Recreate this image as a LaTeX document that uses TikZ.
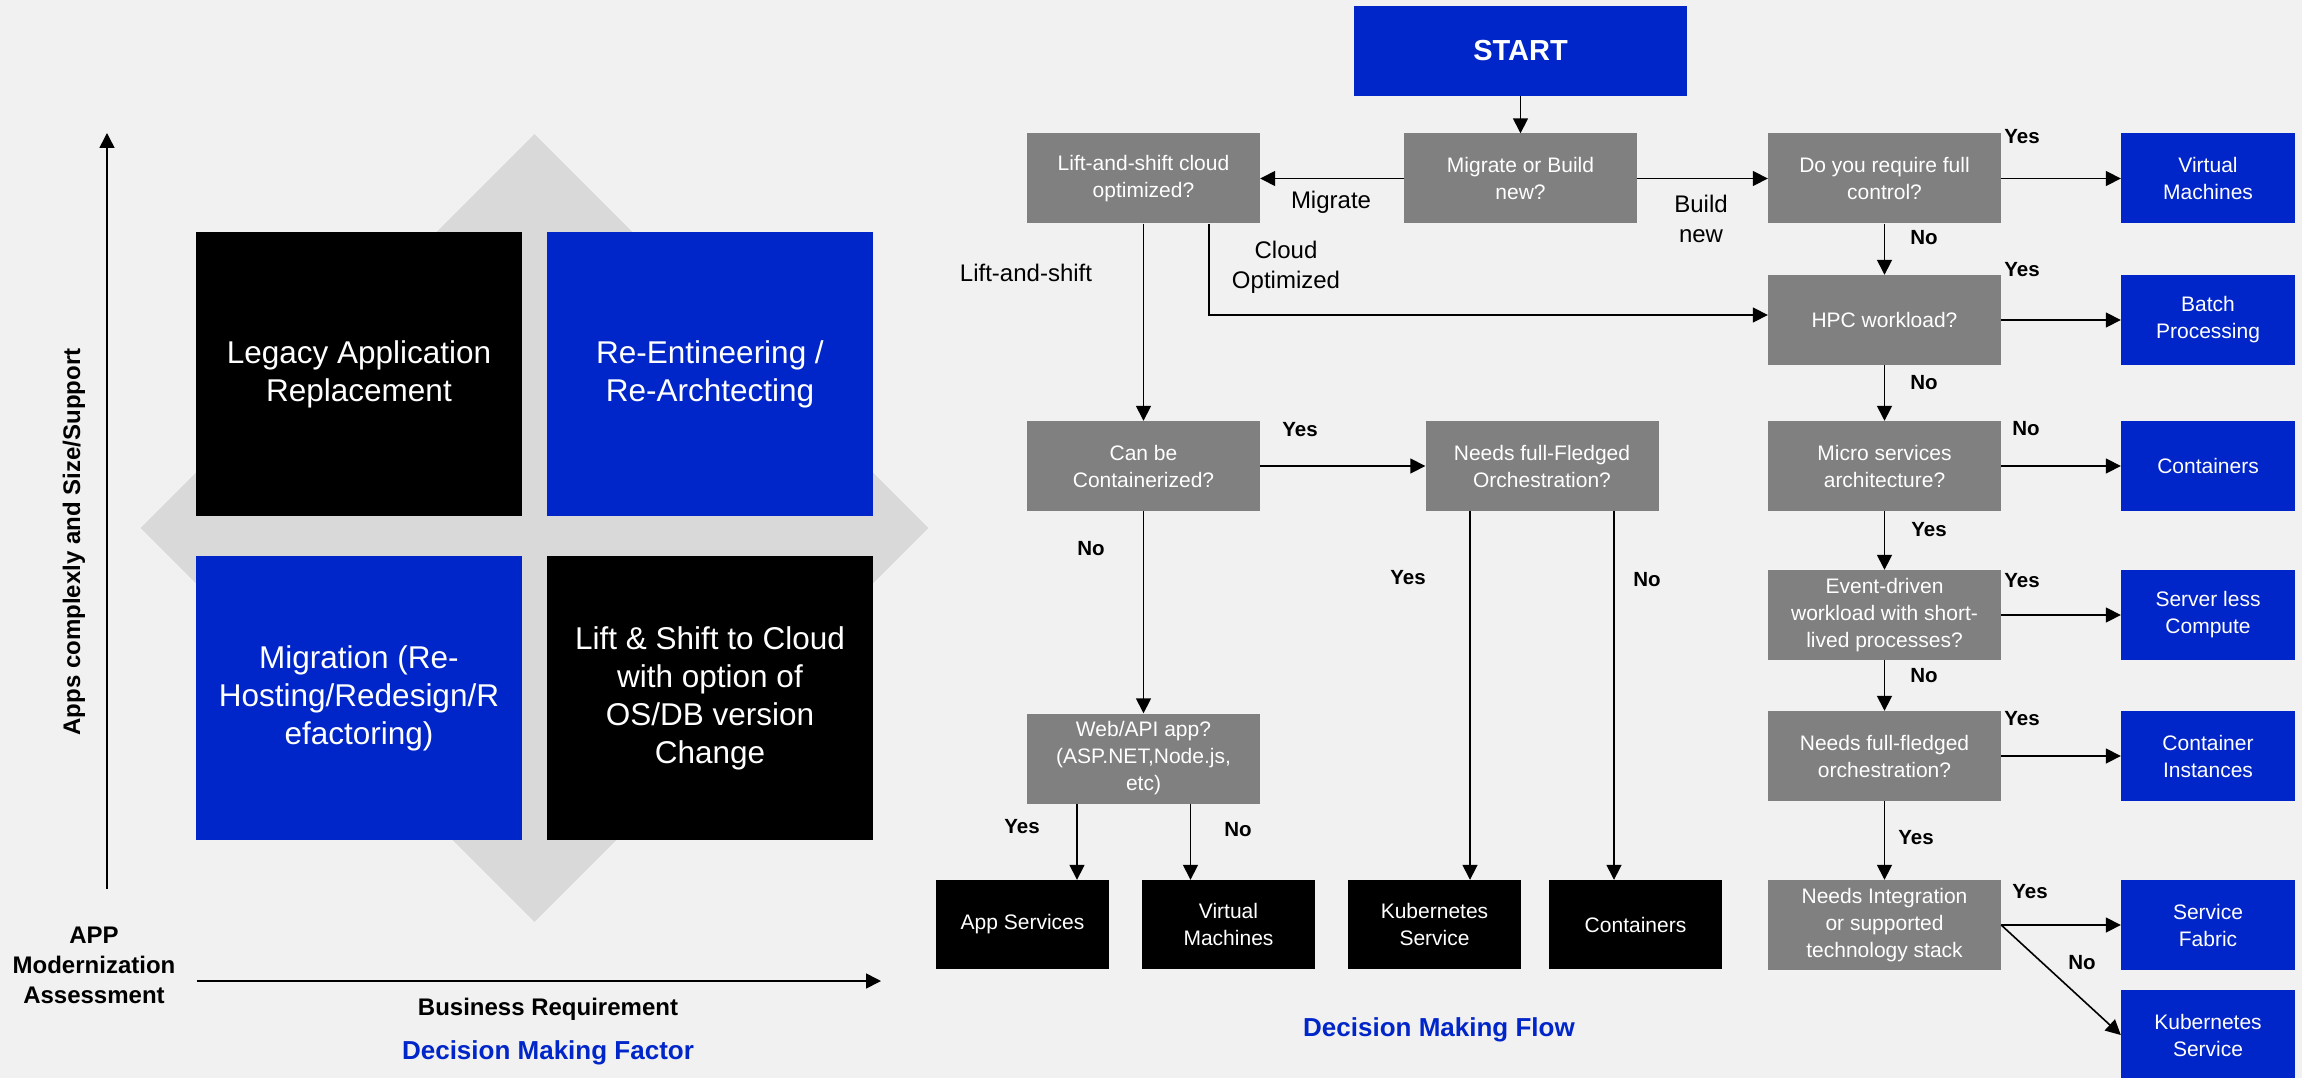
\documentclass[tikz,border=0pt]{standalone}
\usepackage{fontspec}
\setmainfont{Liberation Sans}
\usepackage{xcolor}
\usetikzlibrary{shapes.geometric, arrows.meta, positioning}
\definecolor{flowblue}{RGB}{0, 37, 200}
\definecolor{boxgray}{RGB}{128, 128, 128}
\definecolor{diamondgray}{RGB}{217, 217, 217}
\definecolor{pagegray}{RGB}{241, 241, 241}
\tikzstyle{quadrant} = [rectangle, minimum width=326pt, minimum height=284pt, inner sep=0pt, align=center, text=white, font=\fontsize{31.5}{38}\selectfont]
\tikzstyle{startbox} = [rectangle, minimum width=333pt, minimum height=90pt, inner sep=0pt, fill=flowblue, text=white, font=\bfseries\fontsize{29}{34}\selectfont]
\tikzstyle{question} = [rectangle, minimum width=233pt, minimum height=90pt, inner sep=0pt, align=center, fill=boxgray, text=white, font=\fontsize{21}{27}\selectfont]
\tikzstyle{answer} = [rectangle, minimum width=174pt, minimum height=90pt, inner sep=0pt, align=center, fill=flowblue, text=white, font=\fontsize{21}{27}\selectfont]
\tikzstyle{result} = [rectangle, minimum width=173pt, minimum height=89pt, inner sep=0pt, align=center, fill=black, text=white, font=\fontsize{21}{27}\selectfont]
\tikzstyle{edgetext} = [inner sep=0pt, align=center, font=\fontsize{24}{30}\selectfont]
\tikzstyle{yesno} = [inner sep=0pt, font=\bfseries\fontsize{20.5}{24}\selectfont]
\tikzstyle{axistext} = [inner sep=0pt, align=center, font=\bfseries\fontsize{24}{30}\selectfont]
\tikzstyle{caption} = [inner sep=0pt, text=flowblue, font=\bfseries\fontsize{26}{30}\selectfont]
\tikzstyle{arrow} = [line width=1.6pt, ->, >={Triangle[width=15pt,length=15pt]}]

\begin{document}
\begin{tikzpicture}[x=1pt, y=-1pt, node distance=146pt]

\useasboundingbox (0,0) rectangle (2302,1078);
\fill [pagegray] (0,0) rectangle (2302,1078);

% Decision making factor
\node (bgdiamond) [diamond, fill=diamondgray, minimum width=788pt, minimum height=788pt, inner sep=0pt] at (534.5,528) {};
\node (legacy) [quadrant, fill=black] at (359,374) {Legacy Application\\Replacement};
\node (reeng) [quadrant, fill=flowblue, node distance=351pt, right of=legacy] {Re-Entineering /\\Re-Archtecting};
\node (migration) [quadrant, fill=flowblue, node distance=324pt, below of=legacy] {Migration (Re-\\Hosting/Redesign/R\\efactoring)};
\node (liftshift) [quadrant, fill=black, node distance=351pt, right of=migration] {Lift \& Shift to Cloud\\with option of\\OS/DB version\\Change};

\coordinate (yorigin) at (107,889);
\coordinate (ytop) at (107,133);
\coordinate (xorigin) at (197,981);
\coordinate (xend) at (881,981);
\draw [arrow] (yorigin) -- (ytop);
\draw [arrow] (xorigin) -- (xend);

\node (yaxislabel) [axistext, rotate=90] at (74,542) {Apps complexly and Size/Support};
\node (xaxislabel) [axistext] at (548,1009) {Business Requirement};
\node (assessment) [axistext] at (94,965) {APP\\Modernization\\Assessment};
\node (factorcaption) [caption] at (548,1053) {Decision Making Factor};

% Decision making flow
\node (start) [startbox] at (1520.5,51) {START};
\node (migrate) [question, node distance=127.5pt, below of=start] {Migrate or Build\\new?};
\node (lift) [question, node distance=377pt, left of=migrate] {Lift-and-shift cloud\\optimized?};
\node (canbe) [question, node distance=287.5pt, below of=lift] {Can be\\Containerized?};
\node (needsorch) [question, node distance=398.5pt, right of=canbe] {Needs full-Fledged\\Orchestration?};
\node (webapi) [question, node distance=292.5pt, below of=canbe] {Web/API app?\\(ASP.NET,Node.js,\\etc)};

\node (appsvc) [result, node distance=166pt, below of=webapi, xshift=-121pt] {App Services};
\node (vm1) [result, node distance=206pt, right of=appsvc] {Virtual\\Machines};
\node (aks1) [result, node distance=206pt, right of=vm1] {Kubernetes\\Service};
\node (cont1) [result, node distance=201pt, right of=aks1] {Containers};

\node (fullctrl) [question, node distance=364pt, right of=migrate] {Do you require full\\control?};
\node (hpc) [question, node distance=141.5pt, below of=fullctrl] {HPC workload?};
\node (micro) [question, below of=hpc] {Micro services\\architecture?};
\node (event) [question, node distance=149pt, below of=micro] {Event-driven\\workload with short-\\lived processes?};
\node (needsfull) [question, node distance=141pt, below of=event] {Needs full-fledged\\orchestration?};
\node (integ) [question, node distance=169pt, below of=needsfull] {Needs Integration\\or supported\\technology stack};

\node (vm2) [answer, node distance=323.5pt, right of=fullctrl] {Virtual\\Machines};
\node (batch) [answer, node distance=323.5pt, right of=hpc] {Batch\\Processing};
\node (cont2) [answer, node distance=323.5pt, right of=micro] {Containers};
\node (serverless) [answer, node distance=323.5pt, right of=event] {Server less\\Compute};
\node (aci) [answer, node distance=323.5pt, right of=needsfull] {Container\\Instances};
\node (fabric) [answer, node distance=323.5pt, right of=integ] {Service\\Fabric};
\node (aks2) [answer, node distance=110pt, below of=fabric] {Kubernetes\\Service};

\node (flowcaption) [caption] at (1439,1030) {Decision Making Flow};

% Arrows
\draw [arrow] (start) -- (migrate);
\draw [arrow] (migrate) -- (lift);
\draw [arrow] (migrate) -- (fullctrl);
\draw [arrow] (lift) -- (canbe);
\draw [arrow] ([xshift=65.5pt]lift.south) |- ([yshift=5pt]hpc.west);
\draw [arrow] (canbe) -- (needsorch);
\draw [arrow] (canbe) -- (webapi);
\draw [arrow] ([xshift=-66.5pt]webapi.south) -- ([xshift=-66.5pt]webapi.south |- appsvc.north);
\draw [arrow] ([xshift=47pt]webapi.south) -- ([xshift=47pt]webapi.south |- vm1.north);
\draw [arrow] ([xshift=-72pt]needsorch.south) -- ([xshift=-72pt]needsorch.south |- aks1.north);
\draw [arrow] ([xshift=72pt]needsorch.south) -- ([xshift=72pt]needsorch.south |- cont1.north);

\draw [arrow] (fullctrl) -- (vm2);
\draw [arrow] (fullctrl) -- (hpc);
\draw [arrow] (hpc) -- (batch);
\draw [arrow] (hpc) -- (micro);
\draw [arrow] (micro) -- (cont2);
\draw [arrow] (micro) -- (event);
\draw [arrow] (event) -- (serverless);
\draw [arrow] (event) -- (needsfull);
\draw [arrow] (needsfull) -- (aci);
\draw [arrow] (needsfull) -- (integ);
\draw [arrow] (integ) -- (fabric);
\draw [arrow] (integ.east) -- (aks2.west);

% Labels
\node (lblmigrate) [edgetext] at (1331,202) {Migrate};
\node (lblbuild) [edgetext] at (1701,219) {Build\\new};
\node (lblliftshift) [edgetext] at (1026,273) {Lift-and-shift};
\node (lblcloud) [edgetext] at (1286,267) {Cloud\\Optimized};

\node (yescont) [yesno] at (1300,430) {Yes};
\node (nocont) [yesno] at (1091,549) {No};
\node (yesaks) [yesno] at (1408,578) {Yes};
\node (noorch) [yesno] at (1647,580) {No};
\node (yesweb) [yesno] at (1022,827) {Yes};
\node (noweb) [yesno] at (1238,830) {No};

\node (yesvm) [yesno] at (2022,137) {Yes};
\node (noctrl) [yesno] at (1924,237.5) {No};
\node (yeshpc) [yesno] at (2022,270) {Yes};
\node (nohpc) [yesno] at (1924,383) {No};
\node (nomicro) [yesno] at (2026,429) {No};
\node (yesmicro) [yesno] at (1929,530) {Yes};
\node (yesevent) [yesno] at (2022,581) {Yes};
\node (noevent) [yesno] at (1924,675.5) {No};
\node (yesorch) [yesno] at (2022,718.5) {Yes};
\node (yesfull) [yesno] at (1916,838) {Yes};
\node (yesfabric) [yesno] at (2030,891.5) {Yes};
\node (noaks) [yesno] at (2082,963) {No};

\end{tikzpicture}
\end{document}
